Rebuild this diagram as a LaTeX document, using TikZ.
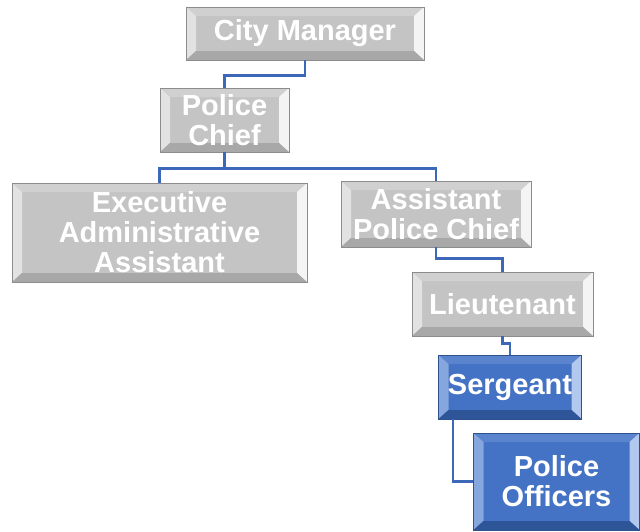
\documentclass[tikz,border=0pt]{standalone}
\usepackage{fontspec}
\setmainfont{Liberation Sans}
\usetikzlibrary{calc}
\definecolor{boxgrey}{HTML}{C4C4C4}
\definecolor{greytop}{HTML}{D0D0D0}
\definecolor{greyleft}{HTML}{E2E2E2}
\definecolor{greyright}{HTML}{F4F4F4}
\definecolor{greybot}{HTML}{A8A8A8}
\definecolor{greyedge}{HTML}{8C8C8C}
\definecolor{boxblue}{HTML}{4472C4}
\definecolor{bluetop}{HTML}{5A84CE}
\definecolor{blueleft}{HTML}{86A6DE}
\definecolor{blueright}{HTML}{B2C8EE}
\definecolor{bluebot}{HTML}{2E5597}
\definecolor{blueedge}{HTML}{2F528F}
\definecolor{linkblue}{HTML}{3D67B8}
\begin{document}
\begin{tikzpicture}
[x=1pt,y=-1pt,
box/.style={draw=#1,line width=0.8pt,inner sep=0pt,align=center,text=white,
  font=\bfseries\fontsize{29}{30}\selectfont},
bevel/.style n args={4}{path picture={
  \path (path picture bounding box.south west) coordinate (bsw)
        (path picture bounding box.north east) coordinate (bne);
  \fill[#1] (bsw|-bne) -- (bne) -- ($(bne)+(-10pt,-9pt)$) -- ($(bsw|-bne)+(10pt,-9pt)$) -- cycle;
  \fill[#2] (bsw) -- (bsw|-bne) -- ($(bsw|-bne)+(10pt,-9pt)$) -- ($(bsw)+(10pt,9pt)$) -- cycle;
  \fill[#3] (bne) -- (bne|-bsw) -- ($(bne|-bsw)+(-10pt,9pt)$) -- ($(bne)+(-10pt,-9pt)$) -- cycle;
  \fill[#4] (bsw) -- (bne|-bsw) -- ($(bne|-bsw)+(-10pt,9pt)$) -- ($(bsw)+(10pt,9pt)$) -- cycle;}},
greybox/.style={box=greyedge,fill=boxgrey,bevel={greytop}{greyleft}{greyright}{greybot}},
bluebox/.style={box=blueedge,fill=boxblue,bevel={bluetop}{blueleft}{blueright}{bluebot}},
link/.style={draw=linkblue,line width=2.6pt}]
\useasboundingbox (0,0) rectangle (640,531);

\node[greybox,minimum width=238pt,minimum height=53pt] (cm) at (305,33.5) {City Manager};
\node[greybox,minimum width=129pt,minimum height=64pt] (pc) at (224.5,120) {Police\\Chief};
\node[greybox,minimum width=295pt,minimum height=99pt] (eaa) at (159.5,232.5) {Executive\\Administrative\\Assistant};
\node[greybox,minimum width=190pt,minimum height=66pt] (apc) at (436,214) {Assistant\\Police Chief};
\node[greybox,minimum width=181pt,minimum height=64pt] (lt) at (502.5,304) {Lieutenant};
\node[bluebox,minimum width=143pt,minimum height=64pt] (sgt) at (510,387) {Sergeant};
\node[bluebox,minimum width=166pt,minimum height=97pt] (po) at (556.5,481.5) {Police\\Officers};

\draw[link] (cm.south) -- ++(0,15) -| (pc.north);
\draw[link] (pc.south) -- ++(0,16) -| (eaa.north);
\draw[link] (pc.south) -- ++(0,16) -| (apc.north);
\draw[link] (apc.south) -- ++(0,11) -| (lt.north);
\draw[link] (lt.south) -- ++(0,7) -| (sgt.north);
\draw[link] ([xshift=-57pt]sgt.south) |- (po.west);
\end{tikzpicture}
\end{document}
